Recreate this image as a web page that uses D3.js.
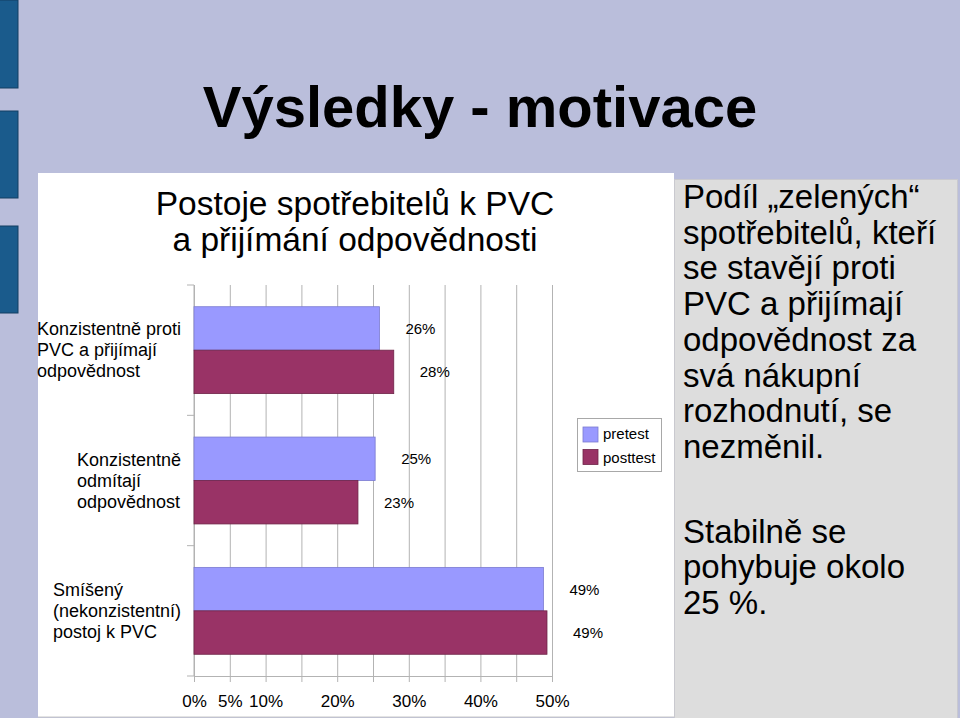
<!DOCTYPE html>
<html>
<head>
<meta charset="utf-8">
<script src="https://cdn.jsdelivr.net/npm/d3@7"></script>
<style>
  html, body { margin: 0; padding: 0; background: #babedb; }
  svg { display: block; font-family: "Liberation Sans", Arial, sans-serif; }
</style>
</head>
<body>
<svg id="chart" width="960" height="718"></svg>
<script>
// data
const categories = [
  ["Konzistentně proti", "PVC a přijímají", "odpovědnost"],
  ["Konzistentně", "odmítají", "odpovědnost"],
  ["Smíšený", "(nekonzistentní)", "postoj k PVC"],
];
const series = ["pretest", "posttest"];
const pretest = [25.9, 25.3, 48.8];
const posttest = [27.9, 22.9, 49.3];
const gridTicks = [0, 5, 10, 15, 20, 25, 30, 35, 40, 45, 50];
const labelTicks = [0, 5, 10, 20, 30, 40, 50];
const colors = { pretest: "#9999ff", posttest: "#993366" };
const strokes = { pretest: "#7a7ad0", posttest: "#6e2447" };

const slideTitle = "Výsledky - motivace";
const chartTitle = ["Postoje spotřebitelů k PVC", "a přijímání odpovědnosti"];
const note1 = ["Podíl „zelených“", "spotřebitelů, kteří", "se stavějí proti",
  "PVC a přijímají", "odpovědnost za", "svá nákupní", "rozhodnutí, se", "nezměnil."];
const note2 = ["Stabilně se", "pohybuje okolo", "25 %."];

const svg = d3.select("#chart");

// slide decoration
const deco = [[0, 88], [111, 198], [226, 313]];
svg.selectAll("rect.deco").data(deco).join("rect").attr("class", "deco")
  .attr("x", -1).attr("y", (d) => d[0]).attr("width", 19).attr("height", (d) => d[1] - d[0])
  .attr("fill", "#1a5b8c").attr("stroke", "#123f63");

svg.append("text").attr("x", 480).attr("y", 127).attr("text-anchor", "middle")
  .attr("font-size", 58).attr("font-weight", "bold").attr("fill", "#000").text(slideTitle);

// white chart panel
svg.append("rect").attr("x", 38).attr("y", 173).attr("width", 636).attr("height", 544)
  .attr("fill", "#fff");
svg.append("line").attr("x1", 38).attr("x2", 674).attr("y1", 717).attr("y2", 717)
  .attr("stroke", "#c8c8c8");

// grey note panel
svg.append("rect").attr("x", 674.5).attr("y", 179.5).attr("width", 283).attr("height", 540)
  .attr("fill", "#dddddd").attr("stroke", "#c9c9cf");

svg.append("g").selectAll("text").data(chartTitle).join("text")
  .attr("x", 355).attr("y", (d, i) => 215 + i * 36).attr("text-anchor", "middle")
  .attr("font-size", 33.5).text((d) => d);

// scales
const x = d3.scaleLinear().domain([0, 50]).range([194, 552]);
const y = d3.scaleBand().domain(d3.range(categories.length)).range([285, 676]);
const ys = d3.scaleBand().domain(series).range([0, y.bandwidth()]).paddingOuter(0.5);

const plot = svg.append("g");

// gridlines + x axis
plot.append("g").attr("transform", "translate(0,676)")
  .call(d3.axisBottom(x).tickValues(gridTicks).tickSize(6)
    .tickFormat((d) => (labelTicks.includes(d) ? d + "%" : "")))
  .call((g) => g.select(".domain").attr("stroke", "#b3b3b3"))
  .call((g) => g.selectAll(".tick line").attr("stroke", "#b3b3b3").attr("y1", -391))
  .call((g) => g.selectAll(".tick text").attr("font-size", 17).attr("fill", "#000")
    .attr("font-family", "Liberation Sans, Arial, sans-serif").attr("dy", null).attr("y", 31));

// y axis (ticks at category boundaries)
const yEdges = [285, ...categories.map((c, i) => y(i) + y.bandwidth())];
plot.append("line").attr("x1", 194).attr("x2", 194).attr("y1", 285).attr("y2", 676)
  .attr("stroke", "#b3b3b3");
plot.selectAll("line.ytick").data(yEdges).join("line").attr("class", "ytick")
  .attr("x1", 187).attr("x2", 194).attr("y1", (d) => d).attr("y2", (d) => d)
  .attr("stroke", "#b3b3b3");

// bars
const rows = categories.flatMap((c, i) => [
  { i, s: "pretest", v: pretest[i] },
  { i, s: "posttest", v: posttest[i] },
]);
plot.selectAll("rect.bar").data(rows).join("rect").attr("class", "bar")
  .attr("x", x(0)).attr("y", (d) => y(d.i) + ys(d.s))
  .attr("width", (d) => x(d.v) - x(0)).attr("height", ys.bandwidth())
  .attr("fill", (d) => colors[d.s]).attr("stroke", (d) => strokes[d.s]).attr("stroke-width", 0.8);

plot.selectAll("text.val").data(rows).join("text").attr("class", "val")
  .attr("x", (d) => x(d.v) + 26).attr("y", (d) => y(d.i) + ys(d.s) + ys.bandwidth() / 2 + 5.5)
  .attr("font-size", 15).text((d) => Math.round(d.v) + "%");

// category labels: left aligned lines, block ends at x=181
categories.forEach((lines, i) => {
  const g = svg.append("g");
  const t = g.selectAll("text").data(lines).join("text")
    .attr("y", (d, k) => y(i) + y.bandwidth() / 2 + 6 + (k - 1) * 21)
    .attr("font-size", 18).text((d) => d);
  const w = d3.max(t.nodes(), (n) => n.getComputedTextLength());
  t.attr("x", 181 - w);
});

// legend
const lg = svg.append("g").attr("transform", "translate(577,418)");
lg.append("rect").attr("x", 0.5).attr("y", 0.5).attr("width", 84).attr("height", 53)
  .attr("fill", "#fff").attr("stroke", "#a8a8a8");
series.forEach((s, i) => {
  lg.append("rect").attr("x", 6).attr("y", 9 + i * 22.5).attr("width", 15).attr("height", 15)
    .attr("fill", colors[s]).attr("stroke", strokes[s]).attr("stroke-width", 0.8);
  lg.append("text").attr("x", 26).attr("y", 21 + i * 23.5).attr("font-size", 15).text(s);
});

// note text
svg.append("g").selectAll("text").data(note1).join("text")
  .attr("x", 683).attr("y", (d, i) => 208 + i * 35.7).attr("font-size", 33).text((d) => d);
svg.append("g").selectAll("text").data(note2).join("text")
  .attr("x", 683).attr("y", (d, i) => 543 + i * 35.3).attr("font-size", 33).text((d) => d);
</script>
</body>
</html>
